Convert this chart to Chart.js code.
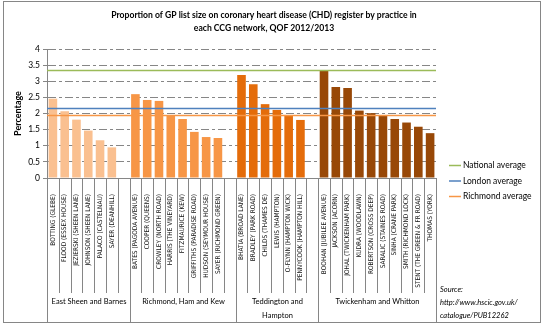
<!DOCTYPE html>
<html>
<head>
<meta charset="utf-8">
<script src="https://cdn.jsdelivr.net/npm/chart.js@4/dist/chart.umd.min.js"></script>
<style>
  html, body { margin: 0; padding: 0; background: #fff; }
  #wrap { width: 545px; height: 325px; }
</style>
</head>
<body>
<div id="wrap"><canvas id="chd" width="545" height="325"></canvas></div>
<script>
// Practices per CCG network, with CHD register as % of list size
const eastSheen = ['BOTTING (GLEBE)', 'FLOOD (ESSEX HOUSE)', 'JEZIERSKI (SHEEN LANE)', 'JOHNSON (SHEEN LANE)',
  'PALACO (CASTELNAU)', 'SAYER (DEANHILL)'];
const eastSheenValues = [2.46, 2.07, 1.81, 1.47, 1.17, 0.95];

const richmondKew = ['BATES (PAGODA AVENUE)', 'COOPER (QUEENS)', 'CROWLEY (NORTH ROAD)', 'HARRIS (THE VINEYARD)',
  'FITZMAURICE (KEW)', 'GRIFFITHS (PARADISE ROAD)', 'HUDSON (SEYMOUR HOUSE)', 'SAYER (RICHMOND GREEN)'];
const richmondKewValues = [2.60, 2.42, 2.39, 1.93, 1.83, 1.43, 1.27, 1.24];

const teddington = ['BHATIA (BROAD LANE)', 'BRADLEY (PARK ROAD)', 'CHILDS (THAMES DE)', 'LEWIS (HAMPTON)',
  'O-FLYNN (HAMPTON WICK)', 'PENNYCOOK (HAMPTON HILL)'];
const teddingtonValues = [3.19, 2.91, 2.29, 2.11, 1.93, 1.80];

const twickenham = ['BOOHAN (JUBILEE AVENUE)', 'JACKSON (ACORN)', 'JOHAL (TWICKENHAM PARK)', 'KUDRA (WOODLAWN)',
  'ROBERTSON (CROSS DEEP)', 'SARALIC (STAINES ROAD)', 'SINHA (CRANE PARK)', 'SMITH (RICHMOND LOCK)',
  'STENT (THE GREEN & FR ROAD)', 'THOMAS (YORK)'];
const twickenhamValues = [3.32, 2.82, 2.79, 2.09, 2.01, 1.93, 1.83, 1.72, 1.59, 1.39];

const networkNames = ['East Sheen and Barnes', 'Richmond, Ham and Kew', ['Teddington and', 'Hampton'], 'Twickenham and Whitton'];
const networkColors = ['#FAC090', '#F79646', '#E46C0A', '#984807'];

const averageNames = ['National average', 'London average', 'Richmond average'];
const averageValues = [3.34, 2.16, 1.94];
const averageColors = ['#9BBB59', '#4F81BD', '#F79646'];

const yTicks = [0, 0.5, 1, 1.5, 2, 2.5, 3, 3.5, 4];

const titleLines = ['Proportion of GP list size on coronary heart disease (CHD) register by practice in',
  'each CCG network, QOF 2012/2013'];
const sourceLines = ['Source:', 'http://www.hscic.gov.uk/', 'catalogue/PUB12262'];

// one empty slot after every network except the last
const groups = [
  [eastSheen, eastSheenValues],
  [richmondKew, richmondKewValues],
  [teddington, teddingtonValues],
  [twickenham, twickenhamValues]
];
const labels = [];
const groupStart = [];
groups.forEach(([names], g) => {
  groupStart.push(labels.length);
  labels.push(...names);
  if (g < groups.length - 1) labels.push('');
});
groupStart.push(labels.length);

const datasets = groups.map(([names, values], g) => {
  const data = labels.map(() => null);
  values.forEach((v, i) => { data[groupStart[g] + i] = v; });
  return { data, backgroundColor: networkColors[g], borderWidth: 0 };
});

const GRID = '#868686';
const narrow = "'Liberation Sans Narrow', 'DejaVu Sans Condensed', sans-serif";
const body = "Lato, 'Open Sans', sans-serif";

// title, average lines across the plot, network labels under the axis, legend and source
const extras = {
  id: 'extras',
  afterDatasetsDraw(chart) {
    const { ctx, chartArea, scales: { y } } = chart;
    ctx.save();
    ctx.lineWidth = 1.5;
    averageValues.forEach((v, i) => {
      const py = Math.round(y.getPixelForValue(v)) + 0.5;
      ctx.strokeStyle = averageColors[i];
      ctx.beginPath();
      ctx.moveTo(chartArea.left, py);
      ctx.lineTo(chartArea.right, py);
      ctx.stroke();
    });
    ctx.restore();
  },
  afterDraw(chart) {
    const { ctx, chartArea, scales: { x } } = chart;
    const half = (x.getPixelForValue(1) - x.getPixelForValue(0)) / 2;
    const edge = i => Math.round(x.getPixelForValue(i) - half) + 0.5;
    ctx.save();

    ctx.fillStyle = '#000';
    ctx.textAlign = 'center';
    ctx.textBaseline = 'middle';
    ctx.font = 'bold 8.6px ' + body;
    titleLines.forEach((line, i) => ctx.fillText(line, 264, 15 + i * 13));

    ctx.strokeStyle = GRID;
    ctx.lineWidth = 1;
    for (let i = 0; i <= labels.length; i++) {
      const px = edge(i);
      ctx.beginPath();
      ctx.moveTo(px, chartArea.bottom);
      ctx.lineTo(px, groupStart.includes(i) ? 322 : 293);
      ctx.stroke();
    }

    ctx.font = '7.5px ' + body;
    networkNames.forEach((name, g) => {
      const cx = (edge(groupStart[g]) + edge(groupStart[g + 1])) / 2;
      [].concat(name).forEach((line, k) => ctx.fillText(line, cx, 302 + k * 13.5));
    });

    ctx.textAlign = 'left';
    ctx.font = '8.5px ' + body;
    averageNames.forEach((name, i) => {
      const ly = 165.5 + i * 15.5;
      ctx.strokeStyle = averageColors[i];
      ctx.lineWidth = 1.5;
      ctx.beginPath();
      ctx.moveTo(449, ly);
      ctx.lineTo(461, ly);
      ctx.stroke();
      ctx.fillText(name, 463, ly);
    });

    ctx.font = 'italic 7.5px ' + body;
    sourceLines.forEach((line, i) => ctx.fillText(line, 440, 290 + i * 13));

    ctx.strokeStyle = GRID;
    ctx.lineWidth = 1;
    ctx.strokeRect(3.5, 1.5, 537, 321);
    ctx.restore();
  }
};

new Chart(document.getElementById('chd'), {
  type: 'bar',
  data: { labels, datasets },
  plugins: [extras],
  options: {
    responsive: false,
    animation: false,
    layout: { padding: { left: 0, right: 109, top: 49, bottom: 0 } },
    datasets: { bar: { grouped: false, skipNull: true, categoryPercentage: 1, barPercentage: 0.73 } },
    plugins: {
      legend: { display: false },
      tooltip: { enabled: false },
      title: { display: false }
    },
    scales: {
      x: {
        grid: { display: false },
        border: { display: true, color: GRID },
        ticks: {
          autoSkip: false, minRotation: 90, maxRotation: 90, padding: 8,
          color: '#111', font: { family: narrow, size: 6.5 }
        },
        afterFit(scale) { scale.height = 147; }
      },
      y: {
        min: 0, max: 4,
        afterBuildTicks(scale) { scale.ticks = yTicks.map(value => ({ value })); },
        grid: { color: GRID, tickLength: 4, tickColor: GRID, tickBorderDash: [] },
        border: { display: true, color: GRID, dash: [8, 3, 3, 3] },
        ticks: { color: '#000', padding: 3, font: { family: body, size: 8.5 }, callback: value => String(value) },
        title: {
          display: true, text: 'Percentage', color: '#000',
          font: { family: body, size: 9, weight: 'bold' }, padding: { top: 13, bottom: 0 }
        },
        afterFit(scale) { scale.width = 47; }
      }
    }
  }
});
</script>
</body>
</html>
